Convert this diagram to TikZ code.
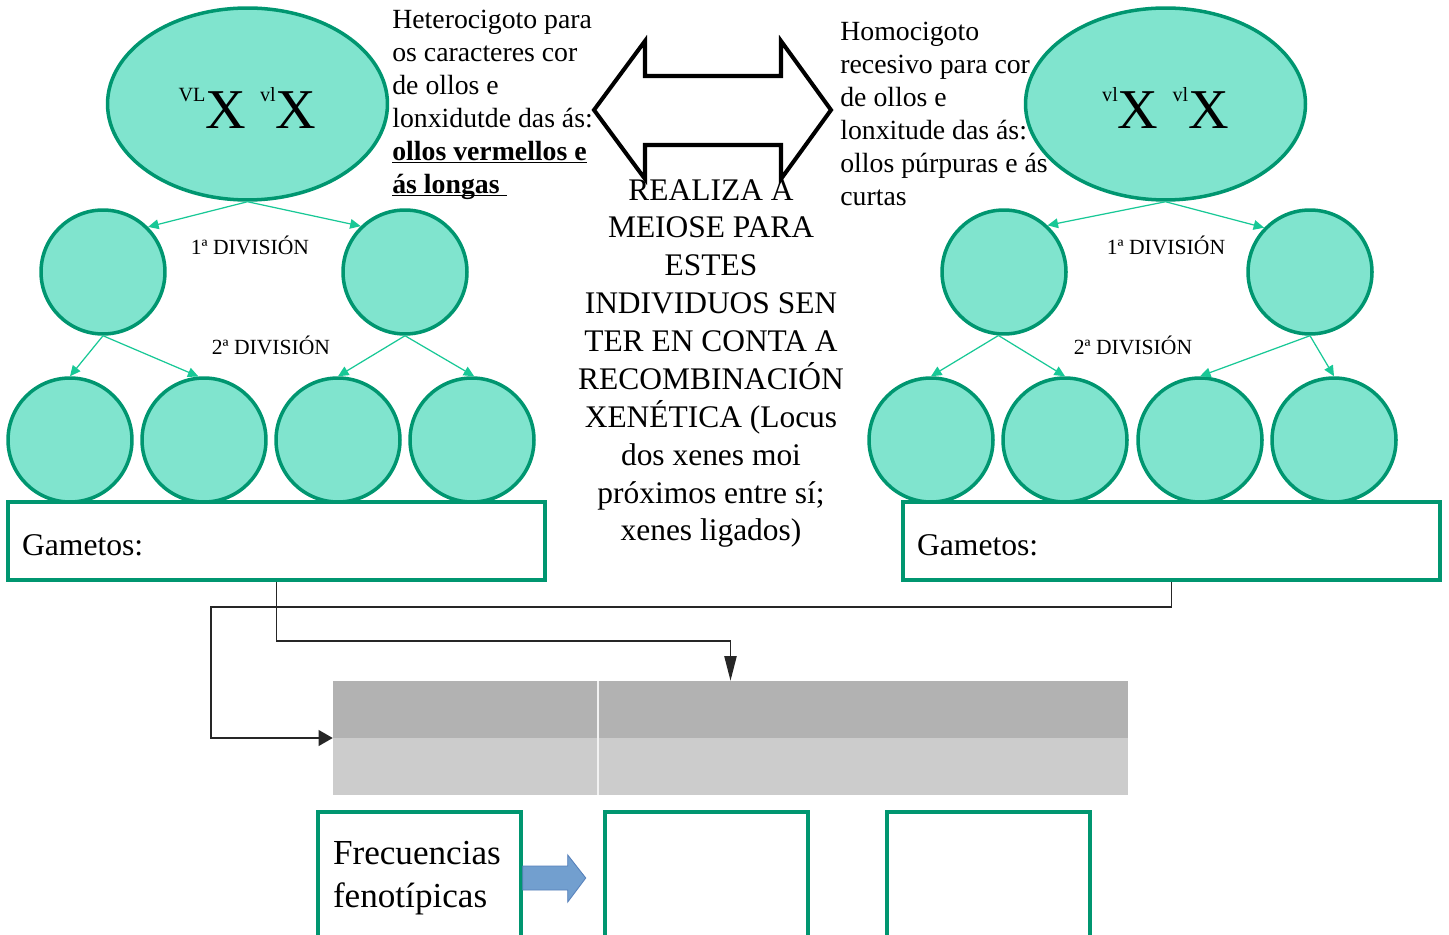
\documentclass[tikz,border=0pt]{standalone}
\usepackage{fontspec}
\setmainfont{Liberation Serif}
\usetikzlibrary{shapes.geometric, arrows.meta, positioning, calc}

\definecolor{cellfill}{RGB}{128,228,206}
\definecolor{celledge}{RGB}{0,150,112}
\definecolor{splitgreen}{RGB}{24,200,150}
\definecolor{rowdark}{RGB}{178,178,178}
\definecolor{rowlight}{RGB}{204,204,204}
\definecolor{bluefill}{RGB}{114,159,207}
\definecolor{blueedge}{RGB}{86,128,186}

% superscript allele before a big X
\newcommand{\allele}[1]{{\fontsize{11.5}{12}\selectfont\raisebox{15.3pt}{#1}}X}
% lower a text without changing its box
\newcommand{\dropby}[2]{\raisebox{-#1}[\height][\depth]{#2}}

\begin{document}
\begin{tikzpicture}[x=0.02cm, y=-0.02cm,
  parent/.style={ellipse, draw=celledge, fill=cellfill, line width=2pt, minimum width=5.6cm, minimum height=3.84cm, inner sep=0pt, font=\fontsize{32}{34}\selectfont},
  cell/.style={circle, draw=celledge, fill=cellfill, line width=2pt, minimum size=2.48cm, inner sep=0pt},
  split/.style={-{Triangle[length=6pt,width=5.5pt]}, draw=splitgreen, line width=0.7pt},
  divlabel/.style={font=\fontsize{12.3}{14}\selectfont},
  note/.style={inner sep=0pt, align=left, font=\fontsize{15.8}{18.7}\selectfont},
  bignote/.style={inner sep=0pt, align=center, font=\fontsize{17.9}{21.55}\selectfont},
  gambox/.style={rectangle, draw=celledge, line width=2pt, minimum width=10.74cm, minimum height=1.56cm, text width=10.18cm, align=left, font=\fontsize{18}{21}\selectfont},
  fenbox/.style={rectangle, draw=celledge, line width=2pt, minimum width=4.06cm, minimum height=2.64cm, text width=3.46cm, align=left, font=\fontsize{20}{24.2}\selectfont},
  feed/.style={draw=black!85, line width=0.8pt}
]
\useasboundingbox (0,0) rectangle (1449,935);
\clip (0,0) rectangle (1449,935);

% left parent and its meiosis
\node[parent] (parL) at (247.5,104) {\dropby{2.3pt}{\allele{VL} \allele{vl}}};
\node[cell] (mL1) at (103,272) {};
\node[cell] (mL2) at (405,272) {};
\node[cell] (gL1) at (70,440) {};
\node[cell] (gL2) at (204,440) {};
\node[cell] (gL3) at (338,440) {};
\node[cell] (gL4) at (472,440) {};

% right parent and its meiosis
\node[parent] (parR) at (1165.5,104) {\dropby{2.3pt}{\allele{vl} \allele{vl}}};
\node[cell] (mR1) at (1004,272) {};
\node[cell] (mR2) at (1310,272) {};
\node[cell] (gR1) at (931,440) {};
\node[cell] (gR2) at (1065,440) {};
\node[cell] (gR3) at (1200,440) {};
\node[cell] (gR4) at (1334,440) {};

\draw[split] (parL.south) -- (mL1.45);
\draw[split] (parL.south) -- (mL2.134);
\draw[split] (mL1.south) -- (gL1.north);
\draw[split] (mL1.south) -- (gL2.95);
\draw[split] (mL2.south) -- (gL3.north);
\draw[split] (mL2.south) -- (gL4.88);
\draw[split] (parR.south) -- (mR1.47);
\draw[split] (parR.south) -- (mR2.136);
\draw[split] (mR1.265) -- (gR1.north);
\draw[split] (mR1.265) -- (gR2.north);
\draw[split] (mR2.south) -- (gR3.north);
\draw[split] (mR2.south) -- (gR4.north);

\node[divlabel] (d1L) at (250,245) {1ª DIVISIÓN};
\node[divlabel] (d2L) at (271,345) {2ª DIVISIÓN};
\node[divlabel] (d1R) at (1166,245) {1ª DIVISIÓN};
\node[divlabel] (d2R) at (1133,345) {2ª DIVISIÓN};

% double arrow between the parents
\draw[line width=2.3pt, fill=white] (594,110) -- (645,41) -- (645,76) -- (781,76) -- (781,41)
  -- (831,110) -- (781,179) -- (781,145) -- (645,145) -- (645,179) -- cycle;

\node[note, anchor=north west] (hetTxt) at (392,10) {Heterocigoto para\\os caracteres cor\\de ollos e\\lonxidutde das ás:\\\underline{\smash{\textbf{ollos vermellos e}}}\\\underline{\smash{\textbf{ás longas\ }}}};
\node[note, anchor=north west] (homTxt) at (840,22) {Homocigoto\\recesivo para cor\\de ollos e\\lonxitude das ás:\\ollos púrpuras e ás\\curtas};
\node[bignote, anchor=north] (meiTxt) at (711,179) {REALIZA A\\MEIOSE PARA\\ESTES\\INDIVIDUOS SEN\\TER EN CONTA A\\RECOMBINACIÓN\\XENÉTICA (Locus\\dos xenes moi\\próximos entre sí;\\xenes ligados)};

% gametes
\node[gambox] (gamL) at (276.5,541) {\dropby{2.2pt}{Gametos:}};
\node[gambox] (gamR) at (1171.5,541) {\dropby{2.2pt}{Gametos:}};

% crossing table
\node[minimum width=15.9cm, minimum height=2.28cm, inner sep=0pt, fill=rowlight] (tab) at (730.5,738) {};
\fill[rowdark] (tab.north west) rectangle (tab.east);
\coordinate (tabCut) at (598,681);
\draw[white!75!rowlight, line width=0.6pt] (tabCut) -- (tabCut |- tab.south);

\coordinate (bendL) at (276.5,641);
\coordinate (bendR) at (1171.5,607);
\coordinate (bendW) at (211,607);
\draw[feed, -{Triangle[length=14pt,width=7pt]}] (gamL.south) -- (bendL) -| (tab.north);
\draw[feed, -{Triangle[length=8pt,width=9pt]}] (gamR.south) -- (bendR) -- (bendW) |- (tab.west);

% phenotype frequencies
\node[fenbox] (fen) at (419.5,878) {Frecuencias\\fenotípicas};
\node[fenbox] (fen2) at (706.5,878) {};
\node[fenbox] (fen3) at (988.5,878) {};
\fill[bluefill, draw=blueedge, line width=0.5pt] ($(fen.east)+(0,-12)$) -- ++(45,0) -- ++(0,-11)
  -- ($(fen.east)+(63,0)$) -- ($(fen.east)+(45,24)$) -- ++(0,-12) -- ($(fen.east)+(0,12)$) -- cycle;
\end{tikzpicture}
\end{document}
